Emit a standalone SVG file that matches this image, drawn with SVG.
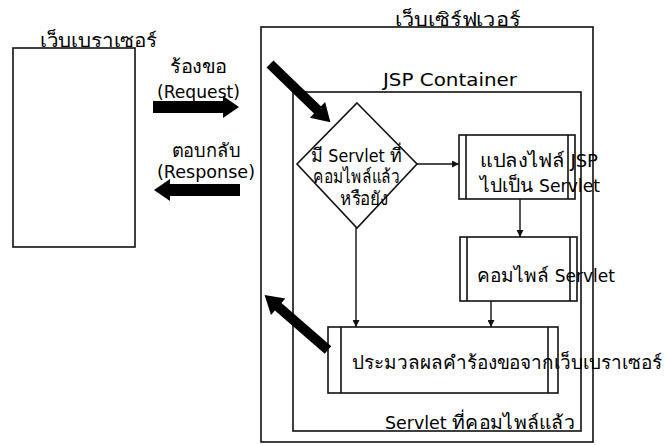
<svg xmlns="http://www.w3.org/2000/svg" width="667" height="445" viewBox="0 0 667 445">
<style>
.box{fill:none;stroke:#111;stroke-width:1.6}
.ln{fill:none;stroke:#111;stroke-width:1.4}
.t{font-family:"DejaVu Sans","Noto Sans",sans-serif;font-size:17px;fill:#000}
.th{font-size:19px}
.big{fill:#000}
</style>
<defs>
<marker id="ah" viewBox="0 0 10 10" refX="10" refY="5" markerWidth="7" markerHeight="7" markerUnits="userSpaceOnUse" orient="auto"><path d="M0,0L10,5L0,10z" fill="#111"/></marker>
</defs>
<rect width="667" height="445" fill="#fff"/>
<g id="browser">
<rect class="box" x="13" y="48" width="122" height="199"/>
<text class="t th" x="40" y="47" textLength="117" lengthAdjust="spacingAndGlyphs">เว็บเบราเซอร์</text>
</g>
<g id="server">
<rect class="box" x="261" y="27" width="332" height="415"/>
<text class="t th" x="395" y="26" textLength="125" lengthAdjust="spacingAndGlyphs">เว็บเซิร์ฟเวอร์</text>
</g>
<g id="container">
<rect class="box" x="293" y="92" width="288" height="339"/>
<text class="t" x="383" y="86" style="font-size:18px" textLength="134" lengthAdjust="spacingAndGlyphs">JSP Container</text>
<text class="t" x="385" y="429" textLength="190" lengthAdjust="spacingAndGlyphs">Servlet <tspan class="th">ที่คอมไพล์แล้ว</tspan></text>
</g>
<g id="decision">
<polygon class="box" points="357,103 417,164 357,228 297,164"/>
<text class="t" x="311" y="162" textLength="91" lengthAdjust="spacingAndGlyphs"><tspan class="th">มี</tspan> Servlet <tspan class="th">ที่</tspan></text>
<text class="t th" x="313" y="183" textLength="87" lengthAdjust="spacingAndGlyphs">คอมไพล์แล้ว</text>
<text class="t th" x="340" y="205" textLength="48" lengthAdjust="spacingAndGlyphs">หรือยัง</text>
</g>
<g id="convert">
<rect class="box" x="459" y="135" width="116" height="64"/>
<line class="box" x1="466" y1="135" x2="466" y2="199"/>
<line class="box" x1="568" y1="135" x2="568" y2="199"/>
<text class="t" x="480" y="167" textLength="118" lengthAdjust="spacingAndGlyphs"><tspan class="th">แปลงไฟล์</tspan> JSP</text>
<text class="t" x="480" y="192" textLength="120" lengthAdjust="spacingAndGlyphs"><tspan class="th">ไปเป็น</tspan> Servlet</text>
</g>
<g id="compile">
<rect class="box" x="460" y="237" width="117" height="64"/>
<line class="box" x1="467" y1="237" x2="467" y2="301"/>
<line class="box" x1="570" y1="237" x2="570" y2="301"/>
<text class="t" x="477" y="282" textLength="138" lengthAdjust="spacingAndGlyphs"><tspan class="th">คอมไพล์</tspan> Servlet</text>
</g>
<g id="process">
<rect class="box" x="328" y="327" width="230" height="66"/>
<line class="box" x1="341" y1="327" x2="341" y2="393"/>
<line class="box" x1="548" y1="327" x2="548" y2="393"/>
<text class="t th" x="352" y="369" textLength="310" lengthAdjust="spacingAndGlyphs">ประมวลผลคำร้องขอจากเว็บเบราเซอร์</text>
</g>
<g id="labels">
<text class="t th" x="170" y="73" textLength="57" lengthAdjust="spacingAndGlyphs">ร้องขอ</text>
<text class="t" x="157" y="98" textLength="83" lengthAdjust="spacingAndGlyphs">(Request)</text>
<text class="t th" x="172" y="157" textLength="68" lengthAdjust="spacingAndGlyphs">ตอบกลับ</text>
<text class="t" x="157" y="178" textLength="98" lengthAdjust="spacingAndGlyphs">(Response)</text>
</g>
<g id="connectors">
<line class="ln" x1="417" y1="164" x2="459" y2="164" marker-end="url(#ah)"/>
<line class="ln" x1="520" y1="199" x2="520" y2="237" marker-end="url(#ah)"/>
<line class="ln" x1="491" y1="301" x2="491" y2="327" marker-end="url(#ah)"/>
<line class="ln" x1="356" y1="228" x2="356" y2="327" marker-end="url(#ah)"/>
<polygon class="big" transform="translate(153,107)" points="0,-6 70,-6 70,-11 86,0 70,11 70,6 0,6"/>
<polygon class="big" transform="translate(240,190) rotate(180)" points="0,-6 70,-6 70,-11 86,0 70,11 70,6 0,6"/>
<polygon class="big" transform="translate(270,64) rotate(44)" points="0,-5 66,-5 66,-11 84,0 66,11 66,5 0,5"/>
<polygon class="big" transform="translate(328,350) rotate(221)" points="0,-5 66,-5 66,-11 84,0 66,11 66,5 0,5"/>
</g>
</svg>
